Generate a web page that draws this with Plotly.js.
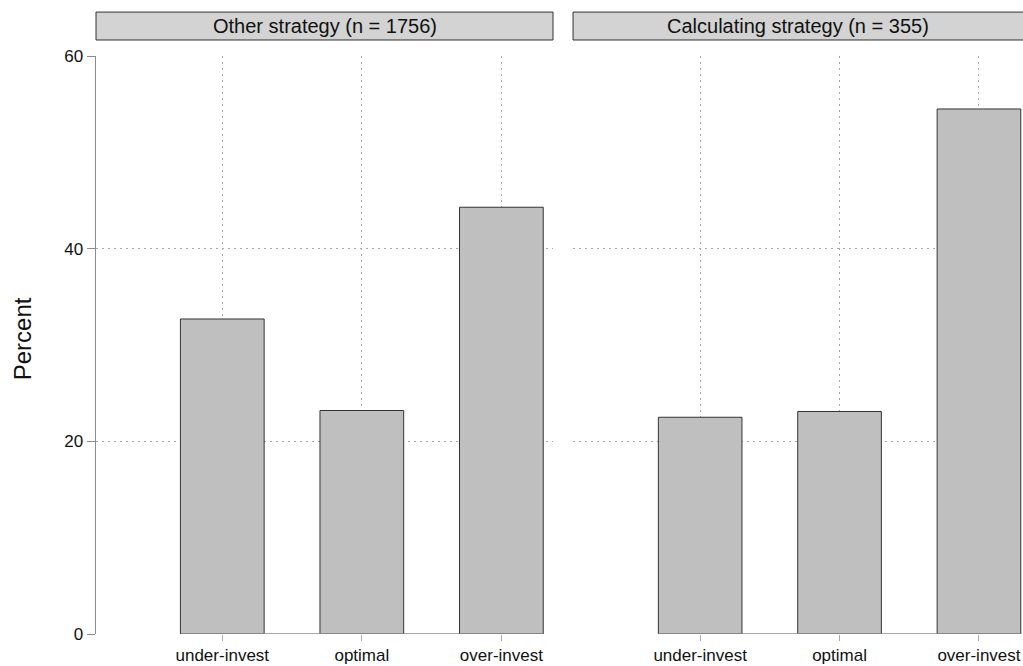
<!DOCTYPE html>
<html>
<head>
<meta charset="utf-8">
<script src="https://cdn.plot.ly/plotly-3.0.1.min.js"></script>
<style>html,body{margin:0;padding:0;background:#fff;}#chart{width:1023px;height:666px;}</style>
</head>
<body>
<div id="chart"></div>
<script>
const categories = ["under-invest", "optimal", "over-invest"];
const panelTitles = ["Other strategy (n = 1756)", "Calculating strategy (n = 355)"];
const otherValues = [32.7, 23.2, 44.3];
const calculatingValues = [22.5, 23.1, 54.5];
const yTicks = [0, 20, 40, 60];

const FONT = "Liberation Sans, Arial, Helvetica, sans-serif";
const barWidth = 0.6;

const bar = (vals, xa, ya) => ({
  type: "bar", x: categories, y: vals, xaxis: xa, yaxis: ya,
  width: barWidth,
  marker: {color: "#bfbfbf", line: {color: "#333333", width: 1}},
  hoverinfo: "x+y", showlegend: false
});

const traces = [bar(otherValues, "x", "y"), bar(calculatingValues, "x2", "y2")];

const gridCol = "#a8a8a8";
const gridDash = "1.5px,4.5px";
const xBase = {
  type: "category", showgrid: true, gridcolor: gridCol, griddash: gridDash, gridwidth: 1,
  showline: false, zeroline: false, ticks: "outside", ticklen: 6, tickcolor: "#aaaaaa", tickwidth: 1,
  tickfont: {family: FONT, size: 17, color: "#111"}, fixedrange: true
};
const yBase = {
  range: [0, 60], tickvals: yTicks, showgrid: true, gridcolor: gridCol, griddash: gridDash, gridwidth: 1,
  zeroline: false, fixedrange: true
};

const half = (categories.length - 1) + barWidth / 2;
const shapes = [];
[["x", "y"], ["x2", "y2"]].forEach(([xa, ya]) => {
  shapes.push({type: "line", xref: xa, yref: ya, x0: -barWidth / 2, x1: half, y0: 0, y1: 0,
    line: {color: "#8c8c8c", width: 1.5}, layer: "above"});
});
shapes.push({type: "rect", xref: "x domain", yref: "paper", x0: 0, x1: 1, y0: 1.0277, y1: 1.076,
  fillcolor: "#d3d3d3", line: {color: "#333333", width: 1}});
shapes.push({type: "rect", xref: "x2 domain", yref: "paper", x0: 0, x1: 1.03, y0: 1.0277, y1: 1.076,
  fillcolor: "#d3d3d3", line: {color: "#333333", width: 1}});

const annotations = [
  {text: panelTitles[0], xref: "x domain", yref: "paper", x: 0.5, y: 1.052, showarrow: false,
   xanchor: "center", yanchor: "middle", font: {family: FONT, size: 20, color: "#111"}},
  {text: panelTitles[1], xref: "x2 domain", yref: "paper", x: 0.5, y: 1.052, showarrow: false,
   xanchor: "center", yanchor: "middle", font: {family: FONT, size: 20, color: "#111"}},
  {text: "Percent", xref: "paper", yref: "paper", x: -0.0798, y: 0.51, showarrow: false,
   textangle: -90, xanchor: "center", yanchor: "middle", font: {family: FONT, size: 24, color: "#111"}}
];

const layout = {
  width: 1023, height: 666,
  margin: {l: 96, r: 0, t: 56, b: 32, pad: 0},
  paper_bgcolor: "#ffffff", plot_bgcolor: "#ffffff",
  showlegend: false, bargap: 0.4,
  font: {family: FONT},
  xaxis: Object.assign({}, xBase, {domain: [0, 0.493], range: [-0.905, 2.37], anchor: "y"}),
  xaxis2: Object.assign({}, xBase, {domain: [0.5146, 1], range: [-0.912, 2.316], anchor: "y2"}),
  yaxis: Object.assign({}, yBase, {anchor: "x", showline: true, linecolor: "#8c8c8c", linewidth: 1.5,
    ticks: "outside", ticklen: 8, tickcolor: "#8c8c8c", tickwidth: 1,
    tickfont: {family: FONT, size: 17, color: "#111"}}),
  yaxis2: Object.assign({}, yBase, {anchor: "x2", matches: "y", showline: false, showticklabels: false, ticks: ""}),
  shapes: shapes,
  annotations: annotations
};

Plotly.newPlot("chart", traces, layout, {staticPlot: true, displayModeBar: false});
</script>
</body>
</html>
